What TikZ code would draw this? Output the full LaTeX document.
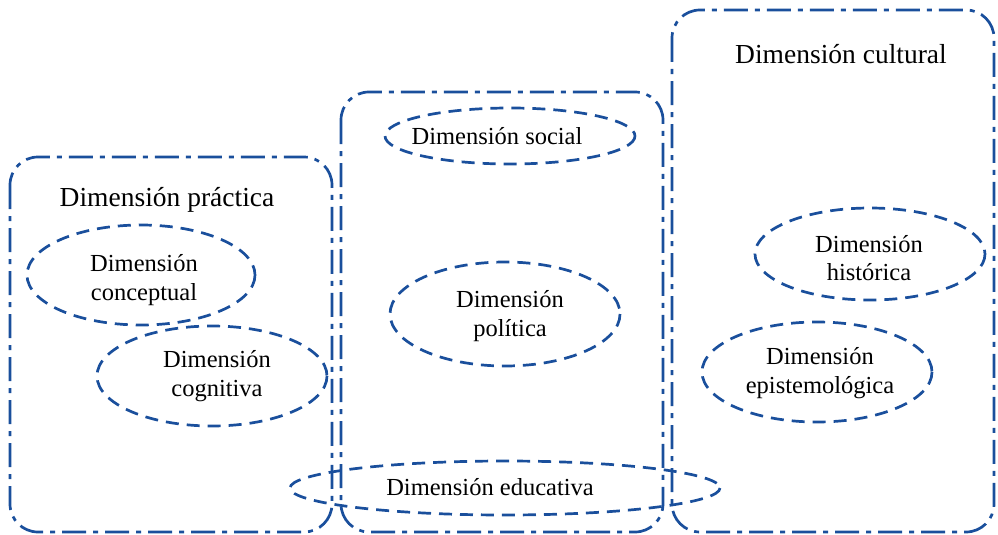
\documentclass[tikz,border=0pt]{standalone}
\usepackage{fontspec}
\setmainfont{Liberation Serif}
\definecolor{dimblue}{HTML}{1A4F9C}
\begin{document}
\begin{tikzpicture}[x=1pt,y=-1pt,
  groupbox/.style={draw=dimblue,line width=2.7pt,rounded corners=28pt,dash pattern=on 24pt off 7pt on 5pt off 7pt},
  dimell/.style={draw=dimblue,line width=2.7pt,dash pattern=on 13pt off 8pt},
  titletext/.style={font=\fontsize{27.5}{31}\selectfont,align=center,inner sep=0pt},
  innertext/.style={font=\fontsize{24.5}{28.5}\selectfont,align=center,inner sep=0pt}]
\useasboundingbox (0,0) rectangle (998,535);
% group boxes
\draw[groupbox] (10,157) rectangle (332,532);
\draw[groupbox] (341,92) rectangle (663,532);
\draw[groupbox] (672,10) rectangle (994,532);
\node[titletext] (prac) at (167,200) {Dimensión práctica};
\node[titletext] (cult) at (841,54) {Dimensión cultural};
% ellipses
\draw[dimell] (141,275) ellipse [x radius=114, y radius=50];
\draw[dimell] (212,376) ellipse [x radius=115, y radius=50];
\draw[dimell] (510,136) ellipse [x radius=125, y radius=28];
\draw[dimell] (505,314) ellipse [x radius=115, y radius=52];
\draw[dimell] (505,488) ellipse [x radius=215, y radius=27];
\draw[dimell] (870,254) ellipse [x radius=115, y radius=46];
\draw[dimell] (817,372) ellipse [x radius=115, y radius=50];
% texts
\node[innertext] (conc) at (144,280) {Dimensión\\conceptual};
\node[innertext] (cogn) at (217,376) {Dimensión\\cognitiva};
\node[innertext] (soc) at (497,136) {Dimensión social};
\node[innertext] (pol) at (510,316) {Dimensión\\política};
\node[innertext] (edu) at (490,487) {Dimensión educativa};
\node[innertext] (hist) at (869,258) {Dimensión\\histórica};
\node[innertext] (epis) at (820,373) {Dimensión\\epistemológica};
\end{tikzpicture}
\end{document}
